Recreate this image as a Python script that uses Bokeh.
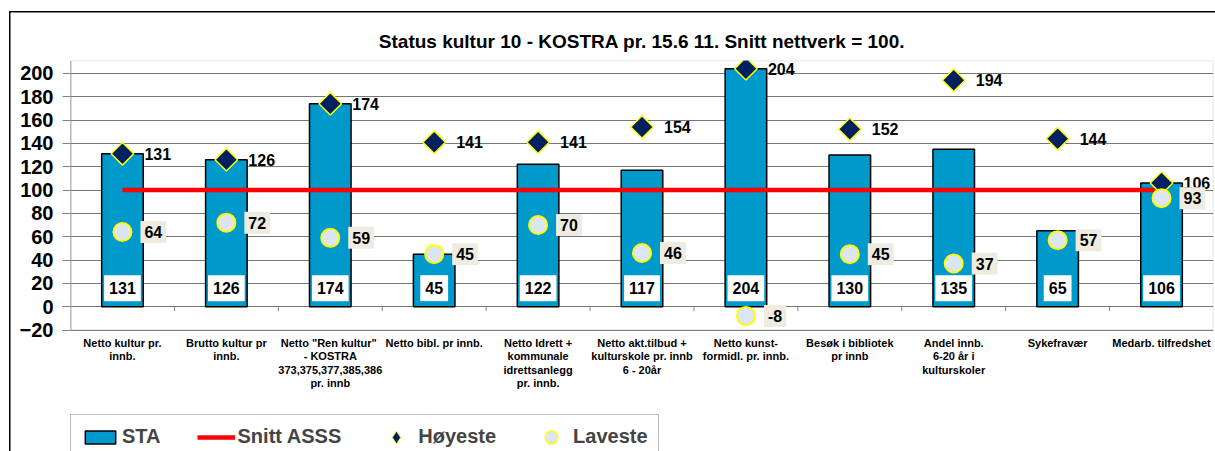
import math
from bokeh.plotting import figure
from bokeh.models import ColumnDataSource, FixedTicker, Legend, LegendItem, Range1d, BoxAnnotation
from bokeh.core.properties import value
from bokeh.embed import file_html
from bokeh.resources import INLINE

# ---------------- data ----------------
categories = [
    "Netto kultur pr.\ninnb.",
    "Brutto kultur pr\ninnb.",
    "Netto  \"Ren kultur\"\n- KOSTRA\n373,375,377,385,386\npr. innb",
    "Netto bibl. pr innb.",
    "Netto Idrett +\nkommunale\nidrettsanlegg\npr. innb.",
    "Netto akt.tilbud +\nkulturskole pr. innb\n6 - 20år",
    "Netto kunst-\nformidl. pr. innb.",
    "Besøk i bibliotek\npr innb",
    "Andel innb.\n6-20 år i\nkulturskoler",
    "Sykefravær",
    "Medarb. tilfredshet",
]
sta = [131, 126, 174, 45, 122, 117, 204, 130, 135, 65, 106]
snitt_asss = [100, 100, 100, 100, 100, 100, 100, 100, 100, 100, 100]
hoyeste = [131, 126, 174, 141, 141, 154, 204, 152, 194, 144, 106]
laveste = [64, 72, 59, 45, 70, 46, -8, 45, 37, 57, 93]
y_ticks = [-20, 0, 20, 40, 60, 80, 100, 120, 140, 160, 180, 200]
title_text = "Status kultur 10 - KOSTRA pr. 15.6 11. Snitt nettverk = 100."

FONT = "Liberation Sans"

# value-axis limits of the plot area
Y_MIN, Y_MAX = -20, 211

# layout (pixels)
W, H = 1215, 451
LEFT, RIGHT, TOP = 70, 2, 60
PLOT_BOTTOM = 329.5          # bottom of the boxed plot area
frame_h = H - TOP
plot_h = PLOT_BOTTOM - TOP
y_start = Y_MAX - (Y_MAX - Y_MIN) * frame_h / plot_h   # frame extends below the plot box

n = len(categories)
xs = [i + 0.5 for i in range(n)]
src = ColumnDataSource(dict(
    x=xs, sta=sta, snitt=snitt_asss, hi=hoyeste, lo=laveste, cat=categories,
    sta_txt=[str(v) for v in sta],
    hi_txt=[str(v) for v in hoyeste],
    lo_txt=[str(v) for v in laveste],
))

p = figure(width=W, height=H, x_range=Range1d(0, n), y_range=Range1d(y_start, Y_MAX),
           output_backend="svg", toolbar_location=None, x_axis_location=None,
           min_border_left=LEFT, min_border_right=RIGHT, min_border_top=TOP, min_border_bottom=0)

# outer chart border (left and top edges) drawn behind the transparent canvas border
p.border_fill_alpha = 0
p.styles = {
    "background-image": "linear-gradient(#000, #000), linear-gradient(#000, #000)",
    "background-size": "1.5px 100%, 100% 1.5px",
    "background-position": "9px 11px, 9px 11px",
    "background-repeat": "no-repeat",
}

p.title.text = title_text
p.title.align = "center"
p.title.vertical_align = "middle"
p.title.text_font = FONT
p.title.text_font_size = "19px"
p.title.text_font_style = "bold"
p.title.text_color = "black"
p.title.standoff = 16

p.outline_line_color = None
p.background_fill_color = "white"

p.yaxis.ticker = FixedTicker(ticks=y_ticks)
p.yaxis.major_label_text_font = FONT
p.yaxis.major_label_text_font_size = "20px"
p.yaxis.major_label_text_font_style = "bold"
p.yaxis.major_label_text_color = "black"
p.yaxis.major_tick_out = 8
p.yaxis.major_tick_in = 0
p.yaxis.minor_tick_out = 0
p.yaxis.axis_line_color = None
p.yaxis.major_tick_line_color = "#808080"
p.yaxis.major_label_standoff = 9

p.xgrid.grid_line_color = None
p.ygrid.ticker = FixedTicker(ticks=y_ticks)
p.ygrid.grid_line_color = "#767676"

# boxed plot area
p.add_layout(BoxAnnotation(left=0, right=n, bottom=Y_MIN, top=Y_MAX, fill_alpha=0,
                           line_color="#9a9a9a", line_width=1.5))
p.segment(x0=[0], y0=[Y_MIN], x1=[0], y1=[Y_MAX], line_color="#808080", line_width=1.5)

# category tick marks on the zero line
bounds = list(range(1, n))
p.segment(x0=bounds, y0=0, x1=bounds, y1=-3.8, line_color="#808080", line_width=1)

bars = p.vbar(x="x", top="sta", bottom=0, width=0.4, fill_color="#0099CC",
              line_color="black", line_width=1.5, source=src)
line = p.line(x="x", y="snitt", line_color="#FF0000", line_width=4.5, source=src)

p.text(x="x", y=0, text="sta_txt", text_align="center", text_baseline="middle",
       y_offset=-18.5, text_font=value(FONT), text_font_size="16px", text_font_style="bold",
       background_fill_color="white", padding=(5, 7), source=src)

p.scatter(x="x", y="hi", marker="square", angle=math.pi / 4, size=16,
          fill_color="#002060", line_color="#FFFF00", line_width=1.5, source=src)
p.scatter(x="x", y="lo", marker="circle", size=18,
          fill_color="#DCE6F2", line_color="#FFFF00", line_width=2, source=src)

p.text(x="x", y="hi", text="hi_txt", text_align="left", text_baseline="middle",
       x_offset=22, text_font=value(FONT), text_font_size="16px", text_font_style="bold",
       source=src)
p.text(x="x", y="lo", text="lo_txt", text_align="left", text_baseline="middle",
       x_offset=18, text_font=value(FONT), text_font_size="16px", text_font_style="bold",
       background_fill_color="#EEECE1", padding=(4, 5), source=src)

# category labels below the plot box
p.text(x="x", y=Y_MIN, text="cat", text_align="center", text_baseline="top",
       y_offset=7, text_font=value(FONT), text_font_size="11px", text_font_style="bold",
       text_line_height=1.12, source=src)

# legend-only (hidden) renderers
blank_hi = p.scatter(x="x", y="hi", marker="diamond", fill_alpha=0, line_alpha=0,
                     source=src, visible=False)
blank_lo = p.scatter(x="x", y="lo", marker="circle", fill_alpha=0, line_alpha=0,
                     source=src, visible=False)
leg_hi = p.scatter(x="x", y="hi", marker="diamond", size=12,
                   fill_color="#002060", line_color="#FFFF00", line_width=1,
                   source=src, visible=False)
leg_lo = p.scatter(x="x", y="lo", marker="circle", size=13,
                   fill_color="#DCE6F2", line_color="#FFFF00", line_width=1.5,
                   source=src, visible=False)

LEG_KW = dict(label_text_font=FONT, label_text_font_size="20px", label_text_font_style="bold",
              label_standoff=3, margin=0, inactive_fill_alpha=0, click_policy="none")

legend = Legend(items=[
    LegendItem(label="STA", renderers=[bars]),
    LegendItem(label="Snitt ASSS", renderers=[line]),
    LegendItem(label="Høyeste", renderers=[blank_hi]),
    LegendItem(label="Laveste", renderers=[blank_lo]),
], orientation="horizontal", location=(0, -8), border_line_color="#808080",
   border_line_width=1.5, glyph_width=38, glyph_height=16, spacing=36, padding=10,
   background_fill_color="white", background_fill_alpha=1, **LEG_KW)
p.add_layout(legend)

# larger marker swatches placed over the two marker entries
for rend, x_loc in ((leg_hi, 310), (leg_lo, 465)):
    p.add_layout(Legend(items=[LegendItem(label=" ", renderers=[rend])],
                        location=(x_loc, -2), glyph_width=32, glyph_height=32, padding=0,
                        border_line_color=None, background_fill_alpha=0, **LEG_KW))

open("out.html", "w").write(file_html(p, INLINE))
